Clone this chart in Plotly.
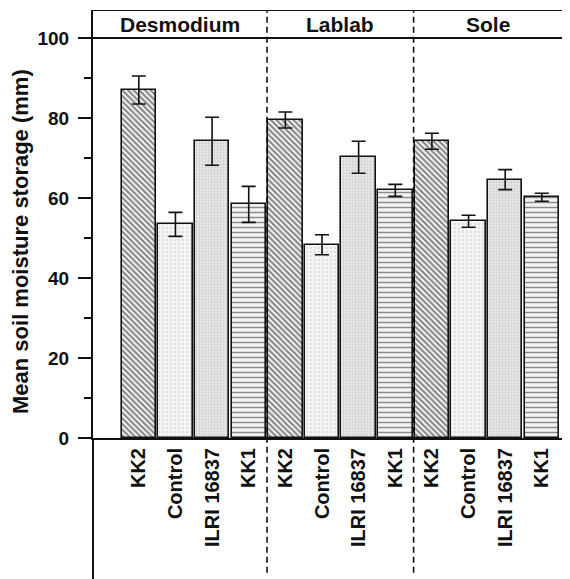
import plotly.graph_objects as go

groups = ["Desmodium", "Lablab", "Sole"]
treatments = ["KK2", "Control", "ILRI 16837", "KK1"]

kk2 = [87.0, 79.5, 74.2]
kk2_err = [3.5, 2.0, 2.0]
control = [53.4, 48.3, 54.2]
control_err = [3.0, 2.5, 1.5]
ilri = [74.2, 70.2, 64.6]
ilri_err = [6.0, 4.0, 2.5]
kk1 = [58.4, 61.9, 60.2]
kk1_err = [4.5, 1.5, 1.0]

series = [kk2, control, ilri, kk1]
errors = [kk2_err, control_err, ilri_err, kk1_err]
patterns = [
    dict(shape="\\", fgcolor="#111111", bgcolor="white", size=4, solidity=0.55),
    dict(shape=".", fgcolor="#c8c8c8", bgcolor="#f6f6f6", size=4, solidity=0.35),
    dict(shape=".", fgcolor="#b0b0b0", bgcolor="#ececec", size=3, solidity=0.45),
    dict(shape="-", fgcolor="#222222", bgcolor="#f2f2f2", size=5, solidity=0.28),
]

FONT = "Liberation Sans, Arial, sans-serif"
fig = go.Figure()
n_t = len(treatments)
for ti, (name, vals, errs, pat) in enumerate(zip(treatments, series, errors, patterns)):
    xs = [gi * n_t + ti + 1 for gi in range(len(groups))]
    fig.add_trace(go.Bar(
        x=xs, y=vals, width=0.94, name=name,
        marker=dict(color="white", pattern=pat, line=dict(color="#111111", width=1.6)),
        error_y=dict(type="data", array=errs, visible=True, color="#111111", thickness=1.6, width=7),
        showlegend=False,
    ))

tickvals = [gi * n_t + ti + 1 for gi in range(len(groups)) for ti in range(n_t)]
ticktext = [t for _ in groups for t in treatments]

# page body adds an 8px margin; keep the figure inside the visible window
fig.update_layout(
    width=554, height=571,
    margin=dict(l=85, r=0, t=2, b=141),
    plot_bgcolor="white", paper_bgcolor="white",
    font=dict(family=FONT, color="#111111"),
    bargap=0,
)
fig.update_xaxes(
    range=[-0.25, 12.55], tickmode="array", tickvals=tickvals, ticktext=ticktext,
    tickangle=-90, ticks="", showgrid=False, zeroline=False,
    showline=True, linecolor="#111111", linewidth=2,
    tickfont=dict(family=FONT, size=20, weight="bold", color="#111111"),
)
fig.update_yaxes(
    range=[0, 107], tickmode="array", tickvals=[0, 20, 40, 60, 80, 100],
    ticks="outside", ticklen=13, tickwidth=2, tickcolor="#111111",
    ticklabelstandoff=5,
    minor=dict(ticks="outside", ticklen=7, tickwidth=2, tickcolor="#111111",
               tickmode="array", tickvals=[10, 30, 50, 70, 90]),
    showgrid=False, zeroline=False,
    showline=True, linecolor="#111111", linewidth=2,
    tickfont=dict(family=FONT, size=19, weight="bold", color="#111111"),
)

shapes = [
    dict(type="line", xref="paper", yref="y", x0=0, x1=1, y0=107, y1=107,
         line=dict(color="#111111", width=2)),
    dict(type="line", xref="paper", yref="y", x0=0, x1=1, y0=100, y1=100,
         line=dict(color="#111111", width=2)),
    dict(type="line", xref="paper", yref="paper", x0=0, x1=0, y0=-0.33, y1=0,
         line=dict(color="#111111", width=2)),
]
for b in [4.5, 8.5]:
    shapes.append(dict(type="line", xref="x", yref="paper", x0=b, x1=b, y0=-0.315, y1=1,
                       line=dict(color="#111111", width=1.6, dash="6px,4px")))
fig.update_layout(shapes=shapes)

bounds = [-0.25, 4.5, 8.5, 12.55]
for gi, g in enumerate(groups):
    fig.add_annotation(x=(bounds[gi] + bounds[gi + 1]) / 2, y=103.5, xref="x", yref="y",
                       text=g, showarrow=False,
                       font=dict(family=FONT, size=21, weight="bold", color="#111111"))

fig.add_annotation(x=-73 / 469, xref="paper", xanchor="center", y=49, yref="y",
                   text="Mean soil moisture storage (mm)", textangle=-90, showarrow=False,
                   font=dict(family=FONT, size=22, weight="bold", color="#111111"))

fig.write_html("out.html")
